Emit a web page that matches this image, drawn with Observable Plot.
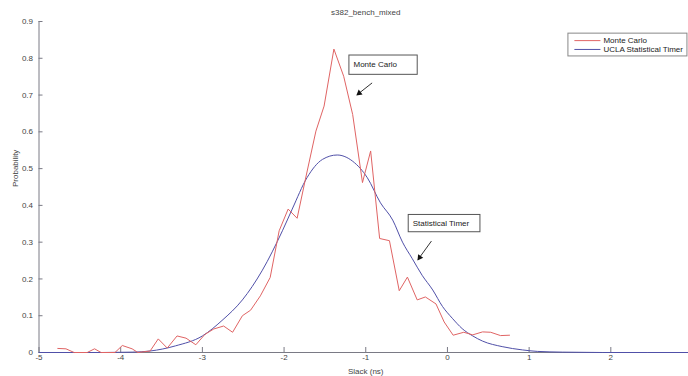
<!DOCTYPE html>
<html><head><meta charset="utf-8">
<script src="https://cdn.jsdelivr.net/npm/d3@7"></script>
<script src="https://cdn.jsdelivr.net/npm/@observablehq/plot@0.6"></script>
<style>
html,body{margin:0;padding:0;background:#fff;overflow:hidden;}
#chart{width:688px;height:376px;overflow:hidden;}
</style></head><body><div id="chart"></div>
<script>
// ---- text ----
const title = "s382_bench_mixed";
const xLabel = "Slack (ns)";
const yLabel = "Probability";
const seriesNames = ["Monte Carlo", "UCLA Statistical Timer"];

// ---- ticks ----
const xTicks = [-5, -4, -3, -2, -1, 0, 1, 2];
const yTicks = [0, 0.1, 0.2, 0.3, 0.4, 0.5, 0.6, 0.7, 0.8, 0.9];

// ---- Monte Carlo (red) ----
const mcX = [-4.77,-4.67,-4.57,-4.41,-4.32,-4.24,-4.07,-3.98,-3.86,-3.79,-3.64,-3.54,-3.43,-3.31,-3.20,-3.08,-2.97,-2.86,-2.74,-2.63,-2.51,-2.41,-2.29,-2.17,-2.06,-1.95,-1.84,-1.73,-1.61,-1.51,-1.39,-1.27,-1.16,-1.04,-0.94,-0.83,-0.71,-0.59,-0.49,-0.37,-0.27,-0.14,-0.04,0.07,0.20,0.31,0.43,0.53,0.65,0.76];
const mcY = [0.011,0.010,0.000,0.000,0.010,0.000,0.000,0.019,0.010,0.000,0.004,0.037,0.012,0.045,0.039,0.021,0.049,0.064,0.072,0.055,0.100,0.115,0.154,0.204,0.331,0.390,0.365,0.480,0.602,0.670,0.825,0.751,0.647,0.462,0.548,0.310,0.304,0.168,0.205,0.143,0.151,0.132,0.083,0.047,0.055,0.048,0.056,0.055,0.046,0.047];

// ---- UCLA Statistical Timer (blue) ----
const stX = [-5.00,-4.23,-3.86,-3.64,-3.33,-3.00,-2.76,-2.51,-2.27,-2.02,-1.90,-1.72,-1.53,-1.35,-1.16,-0.98,-0.82,-0.67,-0.55,-0.43,-0.31,-0.18,-0.06,0.06,0.18,0.31,0.43,0.67,0.92,1.10,1.41,1.90,3.00];
const stY = [0.000,0.000,0.001,0.004,0.018,0.045,0.087,0.143,0.222,0.331,0.390,0.475,0.525,0.537,0.520,0.475,0.407,0.360,0.300,0.255,0.210,0.170,0.125,0.093,0.065,0.045,0.031,0.016,0.007,0.003,0.001,0.000,0.000];

// ---- annotations (data coordinates) ----
const noteText = ["Monte Carlo", "Statistical Timer"];
const noteBoxX1 = [-1.200, -0.474];
const noteBoxX2 = [-0.364, 0.404];
const noteBoxY1 = [0.755, 0.327];
const noteBoxY2 = [0.8075, 0.374];
const noteTextX = [-1.150, -0.425];
const noteTextY = [0.783, 0.351];
const arrowX1 = [-0.922, -0.196];
const arrowY1 = [0.733, 0.303];
const arrowX2 = [-1.105, -0.359];
const arrowY2 = [0.701, 0.253];

// ---- legend placement (data coordinates) ----
const legendBox = {x1: 1.481, x2: 2.938, y1: 0.805, y2: 0.867};
const legendLineX = [1.554, 1.873];
const legendRowY = [0.848, 0.824];
const legendTextX = 1.909;

const colors = ["#e06464", "#5050a8"];
const axisColor = "#7a7a85";

const mc = mcX.map((x, i) => ({x, y: mcY[i]}));
const st = stX.map((x, i) => ({x, y: stY[i]}));
const notes = noteText.map((t, i) => ({
  t, bx1: noteBoxX1[i], bx2: noteBoxX2[i], by1: noteBoxY1[i], by2: noteBoxY2[i],
  tx: noteTextX[i], ty: noteTextY[i],
  ax1: arrowX1[i], ay1: arrowY1[i], ax2: arrowX2[i], ay2: arrowY2[i]
}));
const legendRows = seriesNames.map((name, i) => ({name, y: legendRowY[i], c: colors[i]}));

const W = 688, H = 376;
const xRange = [38.5, 692], yRange = [352, 21];
const tickLenY = 5 / (yRange[0] - yRange[1]) * 0.9;
const tickLenX = 4 / (xRange[1] - xRange[0]) * 8;

const chart = Plot.plot({
  width: W, height: H,
  marginLeft: xRange[0], marginRight: W - xRange[1],
  marginTop: yRange[1], marginBottom: H - yRange[0],
  style: {fontFamily: "'Liberation Sans', Arial, sans-serif", fontSize: "8px", color: "#444", background: "#fff"},
  x: {domain: [-5, 3], range: xRange},
  y: {domain: [0, 0.9], range: yRange},
  marks: [
    // axes lines and inward ticks
    Plot.ruleY([0], {x1: -5, x2: 3, stroke: axisColor}),
    Plot.ruleX([-5], {y1: 0, y2: 0.9, stroke: axisColor}),
    Plot.ruleX(xTicks, {y1: 0, y2: tickLenY, stroke: axisColor}),
    Plot.ruleY(yTicks, {x1: -5, x2: -5 + tickLenX, stroke: axisColor}),
    Plot.axisX(xTicks, {tickSize: 0, tickPadding: 2, tickFormat: d => String(d), label: null, fill: "#444", fontSize: 8}),
    Plot.axisY(yTicks, {tickSize: 0, tickPadding: 6, tickFormat: d => String(d), label: null, fill: "#444", fontSize: 8}),
    // series
    Plot.line(st, {x: "x", y: "y", stroke: colors[1], strokeWidth: 1, curve: "monotone-x"}),
    Plot.line(mc, {x: "x", y: "y", stroke: colors[0], strokeWidth: 1}),
    // annotation boxes
    Plot.rect(notes, {x1: "bx1", x2: "bx2", y1: "by1", y2: "by2", fill: "#fff", stroke: "#555", strokeWidth: 1}),
    Plot.text(notes, {x: "tx", y: "ty", text: "t", textAnchor: "start", fill: "#222", fontSize: 8}),
    Plot.link(notes, {x1: "ax1", y1: "ay1", x2: "ax2", y2: "ay2", stroke: "#333", strokeWidth: 1}),
    Plot.dot([notes[0]], {x: "ax2", y: "ay2", symbol: "triangle2", r: 3, fill: "#111", rotate: 232, dx: 2, dy: -1.5}),
    Plot.dot([notes[1]], {x: "ax2", y: "ay2", symbol: "triangle2", r: 3, fill: "#111", rotate: 216, dx: 1.5, dy: -2}),
    // legend
    Plot.rect([legendBox], {x1: "x1", x2: "x2", y1: "y1", y2: "y2", fill: "#fff", stroke: "#888", strokeWidth: 1}),
    Plot.link(legendRows, {x1: legendLineX[0], x2: legendLineX[1], y1: "y", y2: "y", stroke: "c", strokeWidth: 1}),
    Plot.text(legendRows, {x: legendTextX, y: "y", text: "name", textAnchor: "start", fill: "#222", fontSize: 8}),
    // title and axis labels
    Plot.text([title], {frameAnchor: "top", dy: -12, fill: "#444", fontSize: 8}),
    Plot.text([xLabel], {frameAnchor: "bottom", dy: 21, fill: "#444", fontSize: 8}),
    Plot.text([yLabel], {frameAnchor: "left", dx: -24, rotate: -90, fill: "#444", fontSize: 8})
  ]
});
document.getElementById("chart").appendChild(chart);
</script></body></html>
